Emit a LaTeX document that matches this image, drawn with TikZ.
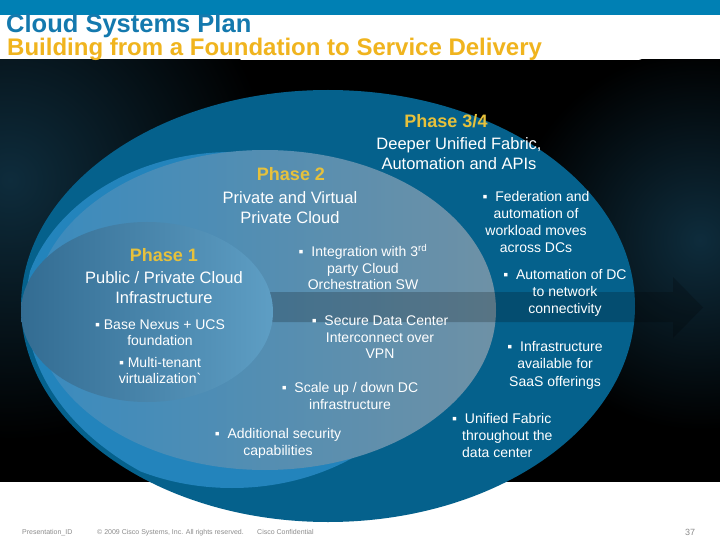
\documentclass[tikz,border=0pt]{standalone}
\usepackage{fontspec}
\setmainfont{Liberation Sans}[Ligatures=TeXOff]
\definecolor{barblue}{HTML}{0080B4}
\definecolor{titleblue}{HTML}{1479AE}
\definecolor{subyellow}{HTML}{F0B41E}
\definecolor{phaseyellow}{HTML}{E6C13C}
\definecolor{outerblue}{HTML}{05618C}
\definecolor{rimblue}{HTML}{2384BC}
\definecolor{ptwoL}{HTML}{3A8BBE}
\definecolor{ptwoR}{HTML}{6E91A6}
\definecolor{poneL}{HTML}{336C92}
\definecolor{poneR}{HTML}{5E9EC4}
\definecolor{glow}{HTML}{0E2C3C}
\definecolor{footgray}{HTML}{8C8C8C}
\tikzset{
  bul/.style={font=\fontsize{14}{17}\selectfont, text=white, align=center, anchor=north, inner sep=0pt},
  headtext/.style={font=\fontsize{16.5}{20}\selectfont, text=white, align=center, anchor=north, inner sep=0pt},
  phase/.style={font=\bfseries\fontsize{18}{20}\selectfont, text=phaseyellow, anchor=base, inner sep=0pt},
  foot/.style={font=\fontsize{7}{8}\selectfont, text=footgray, anchor=base west, inner sep=0pt},
}
\begin{document}
\begin{tikzpicture}[x=1pt,y=-1pt]
\useasboundingbox (0,0) rectangle (720,540);
\fill[white] (0,0) rectangle (720,540);
\fill[barblue] (0,0) rectangle (720,15);
% dark background with glows
\begin{scope}
  \clip (0,60) rectangle (720,482);
  \fill[black] (0,60) rectangle (720,482);
  \shade[inner color=glow, outer color=black] (10,180) circle (260);
  \shade[inner color=glow, outer color=black] (700,240) circle (190);
\end{scope}
% Phase 3/4 disc
\fill[outerblue] (328,306) ellipse [x radius=307, y radius=216];
% bright rim of phase 2
\begin{scope}
  \clip (328,306) ellipse [x radius=302, y radius=211];
  \fill[rimblue] (232,320) ellipse [x radius=211, y radius=168];
\end{scope}
% Phase 2 disc
\shade[left color=ptwoL, right color=ptwoR] (265,310) ellipse [x radius=231, y radius=160];
% arrow band
\fill[black, opacity=0.2] (150,292) -- (673,292) -- (673,277) -- (703,307.5) -- (673,338) -- (673,322) -- (150,322) -- cycle;
% Phase 1 disc
\shade[left color=poneL, right color=poneR] (147,312) ellipse [x radius=126, y radius=90];

% titles
\node[font=\bfseries\fontsize{25.5}{28}\selectfont, text=titleblue, anchor=base west, inner sep=0pt] (title) at (6,33) {Cloud Systems Plan};
\node[font=\bfseries\fontsize{24}{28}\selectfont, text=subyellow, anchor=base west, inner sep=0pt] (subtitle) at (7,56) {Building from a Foundation to Service Delivery};

% phase 3/4
\node[phase] (p34) at (446,127.5) {Phase 3/4};
\node[headtext] (p34t) at (459,137) {Deeper Unified Fabric,\\Automation and APIs};
% phase 2
\node[phase] (p2) at (291,180.5) {Phase 2};
\node[headtext] (p2t) at (290,191) {Private and Virtual\\Private Cloud};
% phase 1
\node[phase] (p1) at (164,261.5) {Phase 1};
\node[headtext] (p1t) at (164,271) {Public / Private Cloud\\Infrastructure};

% phase 1 bullets
\node[bul, font=\fontsize{14}{16}\selectfont] (b1) at (160,320) {▪ Base Nexus + UCS\\foundation};
\node[bul, font=\fontsize{14}{16}\selectfont] (b2) at (160,357) {▪ Multi-tenant\\virtualization`};
% phase 2 bullets
\node[bul, font=\fontsize{14}{16.5}\selectfont] (b3) at (363,244) {▪ \ Integration with 3\textsuperscript{rd}\\party Cloud\\Orchestration SW};
\node[bul, font=\fontsize{14}{16.5}\selectfont] (b4) at (380,316) {▪ \ Secure Data Center\\Interconnect over\\VPN};
\node[bul] (b5) at (350,382) {▪ \ Scale up / down DC\\infrastructure};
\node[bul] (b6) at (278,428) {▪ \ Additional security\\capabilities};
% phase 3/4 bullets
\node[bul] (b7) at (536,191) {▪ \ Federation and\\automation of\\workload moves\\across DCs};
\node[bul] (b8) at (565,269) {▪ \ Automation of DC\\to network\\connectivity};
\node[bul, font=\fontsize{14}{17.5}\selectfont] (b9) at (555,341) {▪ \ Infrastructure\\available for\\SaaS offerings};
\node[bul, align=left, anchor=north west] (b10) at (452,413) {▪ \ Unified Fabric\\\hspace{10pt}throughout the\\\hspace{10pt}data center};

% footer
\node[foot] (f1) at (22,534) {Presentation\_ID};
\node[foot] (f2) at (97,534) {© 2009 Cisco Systems, Inc. All rights reserved.};
\node[foot] (f3) at (257,534) {Cisco Confidential};
\node[foot, font=\fontsize{9}{10}\selectfont] (f4) at (685,535) {37};
\end{tikzpicture}
\end{document}
